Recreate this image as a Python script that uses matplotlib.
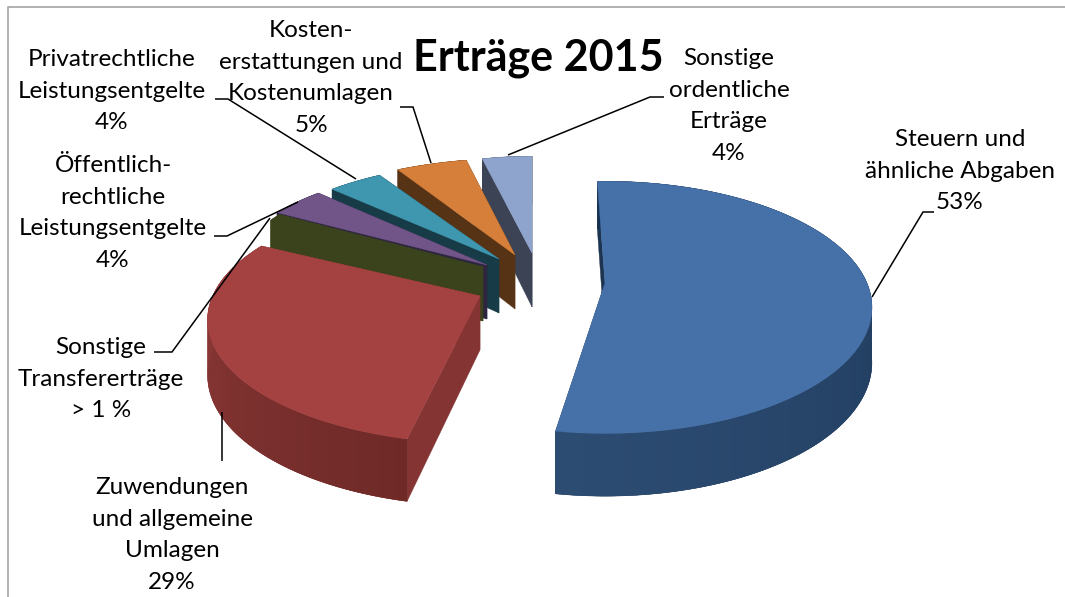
import numpy as np
import matplotlib
matplotlib.use("Agg")
import matplotlib.pyplot as plt
from matplotlib.colors import to_rgb
from matplotlib.patches import Polygon

plt.rcParams["font.family"] = ["Lato", "DejaVu Sans"]

# data, clockwise from 12 o'clock
categories = [
    "Steuern und\nähnliche Abgaben\n53%",
    "Zuwendungen\nund allgemeine\nUmlagen\n29%",
    "Sonstige\nTransfererträge\n> 1 %",
    "Öffentlich-\nrechtliche\nLeistungsentgelte\n4%",
    "Privatrechtliche\nLeistungsentgelte\n4%",
    "Kosten-\nerstattungen und\nKostenumlagen\n5%",
    "Sonstige\nordentliche\nErträge\n4%",
]
values = [53, 29, 1, 4, 4, 5, 4]
title = "Erträge 2015"

# look of each slice
apex_x = [605, 480, 483, 487, 499, 515, 532]
apex_y = [283, 296, 267, 265, 259, 255, 253]
nudge = [-2, 2, 0, 0, 0, 2, 0]
rx_scale = [0.97, 0.99, 0.94, 0.97, 0.96, 1.0, 0.88]
ry_scale = [1.02, 1.0, 1.0, 1.0, 0.97, 0.97, 0.97]
top_colors = ["#4671a8", "#a44241", "#3a431c", "#715589", "#3f96af", "#d67f3a", "#8fa4cc"]
wall_colors = ["#1d3450", "#843433", "#3a431c", "#2e2540", "#183c47", "#573315", "#3b4355"]
rim_far = ["#15304e", "#923c3a", "#3a431c", "#2e2540", "#183c47", "#573315", "#3b4355"]
rim_near = ["#2d4c72", "#6f2a28", "#3a431c", "#2e2540", "#183c47", "#573315", "#3b4355"]
label_x = [960, 172, 101, 113, 112, 311, 729]
label_y = [171, 535, 379, 213, 91, 78, 106]

# leader lines in picture pixels
leaders = [
    [(872, 297), (923, 212), (934, 212)],
    [(222, 412), (222, 461)],
    [(270, 218), (172, 352), (154, 352)],
    [(298, 202), (227, 236), (214, 236)],
    [(356, 179), (228, 99), (215, 99)],
    [(431, 163), (413, 107), (400, 107)],
    [(508, 155), (650, 97), (664, 97)],
]

RX = 270
RY = 119
PERSP = 0.193
WALL = 54


def project(ax0, ay0, angle, sx=1.0, sy=1.0):
    # tilted disc with a bit of perspective, angle clockwise from the top
    a = np.deg2rad(angle)
    x = np.sin(a)
    y = np.cos(a)
    d = 1 + PERSP * y
    return ax0 + sx * RX * x / d, ay0 - sy * RY * y / d, WALL / d ** 0.7


def fill(ax, pts, color):
    ax.add_patch(Polygon(pts, closed=True, facecolor=color, edgecolor=color, lw=0.3))


fig = plt.figure(figsize=(10.65, 5.97), dpi=100)
ax = fig.add_axes([0, 0, 1, 1])
ax.set_xlim(0, 1065)
ax.set_ylim(597, 0)
ax.axis("off")

# chart frame
ax.plot([8, 8, 1065], [597, 6.5, 6.5], color="#a3a3a3", lw=1.2)

bounds = np.cumsum([0] + values) * 360 / sum(values)

# far slices first, so the near ones cover them
for i in [6, 5, 4, 3, 2, 1, 0]:
    a0 = bounds[i] + nudge[i]
    a1 = bounds[i + 1] + nudge[i]
    ax0, ay0 = apex_x[i], apex_y[i]
    angles = np.linspace(a0, a1, max(int(a1 - a0), 6))
    xs, ys, hs = project(ax0, ay0, angles, rx_scale[i], ry_scale[i])

    # the two cut faces
    for j in [-1, 0]:
        fill(ax, [(ax0, ay0), (xs[j], ys[j]), (xs[j], ys[j] + hs[j]), (ax0, ay0 + WALL)], wall_colors[i])

    # outer rim, base colour under the shaded strips so no seams show
    c_far = np.array(to_rgb(rim_far[i]))
    c_near = np.array(to_rgb(rim_near[i]))
    mid = tuple((c_far + c_near) / 2)
    fill(ax, list(zip(xs, ys)) + list(zip(xs[::-1], (ys + hs)[::-1])), mid)
    for k in range(len(angles) - 2):
        t = k / max(len(angles) - 3, 1)
        color = c_near * (1 - t) + c_far * t if i == 1 else c_far * (1 - t) + c_near * t
        ax.add_patch(Polygon([(xs[k], ys[k]), (xs[k + 1], ys[k + 1]), (xs[k + 2], ys[k + 2]),
                              (xs[k + 2], ys[k + 2] + hs[k + 2]), (xs[k + 1], ys[k + 1] + hs[k + 1]),
                              (xs[k], ys[k] + hs[k])], closed=True, facecolor=color, edgecolor="none"))

    # top face
    fill(ax, [(ax0, ay0)] + list(zip(xs, ys)), top_colors[i])

for line in leaders:
    ax.plot([p[0] for p in line], [p[1] for p in line], color="black", lw=1.1,
            solid_capstyle="butt", solid_joinstyle="miter")

for i in range(len(categories)):
    ax.text(label_x[i], label_y[i], categories[i], ha="center", va="center",
            fontsize=17.5, linespacing=1.62, color="black")

ax.text(538, 58, title, ha="center", va="center", fontsize=31, fontweight="bold", color="black")

fig.savefig("out.png", dpi=100)
